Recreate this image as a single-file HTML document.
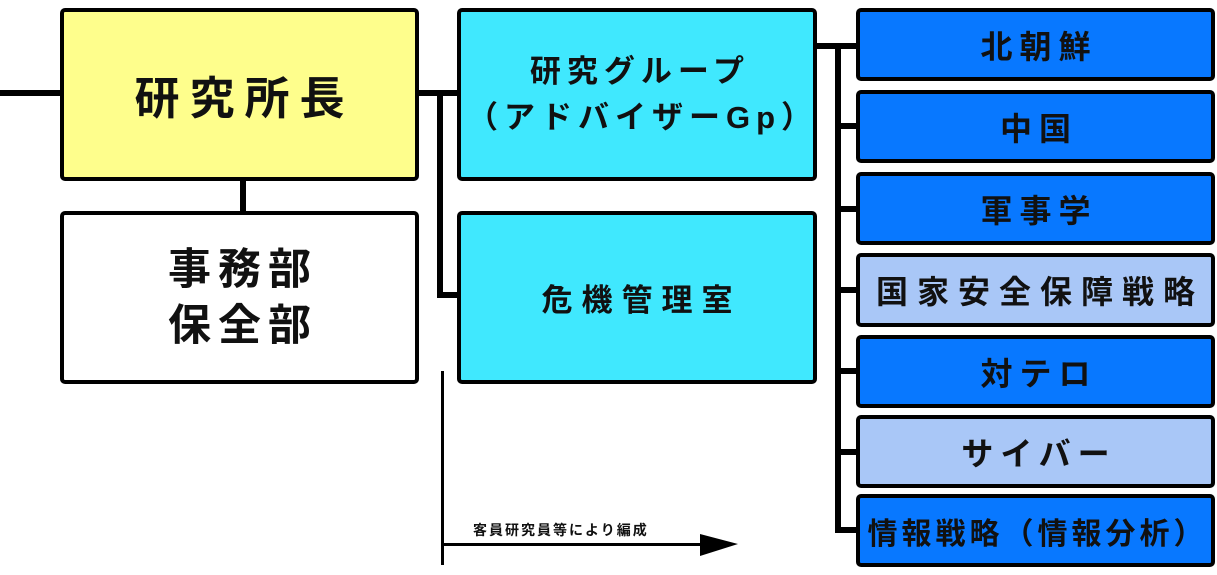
<!DOCTYPE html>
<html><head><meta charset="utf-8"><style>
body{margin:0;width:1217px;height:575px;background:#fff;position:relative;overflow:hidden;font-family:"Liberation Sans","Noto Sans CJK JP",sans-serif;font-weight:bold;color:#111}
.b{position:absolute;box-sizing:border-box;border:4px solid #000;border-radius:5px;display:flex;align-items:center;justify-content:center;text-align:center}
.l{position:absolute;background:#000}
.r{left:856px;width:359px;font-size:32px;letter-spacing:7px}
.d{background:#0878ff}.p{background:#a9c7f7}
</style></head><body>
<div class="l" style="left:0;top:90px;width:62px;height:6px"></div>
<div class="l" style="left:240px;top:178px;width:6px;height:36px"></div>
<div class="l" style="left:416px;top:90px;width:44px;height:6px"></div>
<div class="l" style="left:437px;top:90px;width:6px;height:208px"></div>
<div class="l" style="left:437px;top:292px;width:23px;height:6px"></div>
<div class="l" style="left:814px;top:43px;width:44px;height:6px"></div>
<div class="l" style="left:835px;top:43px;width:6px;height:490px"></div>
<div class="l" style="left:835px;top:123px;width:23px;height:6px"></div>
<div class="l" style="left:835px;top:206px;width:23px;height:6px"></div>
<div class="l" style="left:835px;top:287px;width:23px;height:6px"></div>
<div class="l" style="left:835px;top:368px;width:23px;height:6px"></div>
<div class="l" style="left:835px;top:449px;width:23px;height:6px"></div>
<div class="l" style="left:835px;top:527px;width:23px;height:6px"></div>

<div class="b" style="left:60px;top:8px;width:359px;height:173px;background:#fefe8c;font-size:45px;letter-spacing:10px;padding-left:10px">研究所長</div>
<div class="b" style="left:60px;top:211px;width:359px;height:173px;background:#fff;font-size:43px;letter-spacing:7px;line-height:56px;padding-left:7px">事務部<br>保全部</div>
<div class="b" style="left:457px;top:8px;width:360px;height:173px;background:#40e8fe;font-size:31px;letter-spacing:6px;line-height:46px;padding-left:6px">研究グループ<br>（アドバイザーGp）</div>
<div class="b" style="left:457px;top:211px;width:360px;height:173px;background:#40e8fe;font-size:31px;letter-spacing:9px;padding-left:9px">危機管理室</div>

<div class="b r d" style="top:8px;height:73px;padding-left:7px">北朝鮮</div>
<div class="b r d" style="top:90px;height:73px;padding-left:7px">中国</div>
<div class="b r d" style="top:172px;height:73px;padding-left:7px">軍事学</div>
<div class="b r p" style="top:253px;height:74px;letter-spacing:9px;padding-left:9px">国家安全保障戦略</div>
<div class="b r d" style="top:335px;height:73px;padding-left:7px">対テロ</div>
<div class="b r p" style="top:415px;height:73px;padding-left:7px">サイバー</div>
<div class="b r d" style="top:494px;height:73px;letter-spacing:4px;font-size:30px;padding-left:4px">情報戦略（情報分析）</div>

<div class="l" style="left:441px;top:371px;width:3px;height:194px"></div>
<div class="l" style="left:443px;top:543px;width:262px;height:3px"></div>
<svg style="position:absolute;left:700px;top:532px" width="40" height="26"><polygon points="0,2 38,12 0,24" fill="#000"/></svg>
<div style="position:absolute;left:473px;top:520px;font-size:14px;letter-spacing:2px">客員研究員等により編成</div>
</body></html>
